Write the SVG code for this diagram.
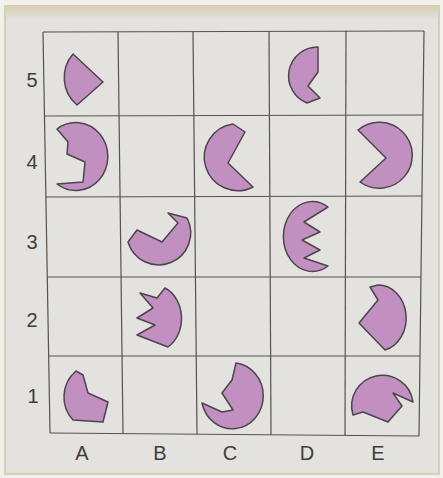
<svg xmlns="http://www.w3.org/2000/svg" width="443" height="478" viewBox="0 0 443 478">
  <defs>
    <linearGradient id="topband" x1="0" y1="0" x2="0" y2="1">
      <stop offset="0" stop-color="#d8d0b6"/>
      <stop offset="1" stop-color="#e2e0da"/>
    </linearGradient>
    <style>
      .grid { stroke: #55524f; stroke-width: 1.2; fill: none; }
      .shape { fill: #c28fc1; stroke: #4d454c; stroke-width: 1.5; stroke-linejoin: round; }
      .lbl { font-family: "Liberation Sans", "Noto Sans", sans-serif; font-size: 20px; fill: #3e3d3b; text-anchor: middle; }
    </style>
  </defs>

  <!-- photo background -->
  <rect x="0" y="0" width="443" height="478" fill="#f2f0ea"/>
  <rect x="4" y="5" width="436" height="470" fill="#d7cfb5"/>
  <rect x="6" y="7" width="432" height="466" fill="#e3e2de"/>
  <rect x="6" y="7" width="432" height="12" fill="url(#topband)"/>

  <!-- grid -->
  <g id="grid" class="grid">
    <line x1="43" y1="32" x2="424" y2="31"/>
    <line x1="44.5" y1="116" x2="423" y2="115"/>
    <line x1="45.9" y1="197" x2="422" y2="196"/>
    <line x1="47.3" y1="277" x2="421" y2="277"/>
    <line x1="48.7" y1="356" x2="420" y2="356"/>
    <line x1="50" y1="433" x2="419" y2="436"/>
    <line x1="43" y1="32" x2="50" y2="433"/>
    <line x1="118" y1="32" x2="123" y2="434"/>
    <line x1="193" y1="32" x2="197" y2="434"/>
    <line x1="269" y1="31" x2="271" y2="435"/>
    <line x1="346" y1="31" x2="345" y2="435"/>
    <line x1="424" y1="31" x2="419" y2="436"/>
  </g>

  <!-- shapes -->
  <g id="A5"><path class="shape" d="M73,54 A36,36 0 0 0 77,105 L103,82 Z"/></g>
  <g id="D5"><path class="shape" d="M318,47 A29,29 0 0 0 307,103 L320,98 L308,86 L318,72 Z"/></g>
  <g id="A4"><path class="shape" d="M57,129 L68,142 L67,154 L85,162 L83,182 L57,184 A32,34 0 1 0 57,129 Z"/></g>
  <g id="C4"><path class="shape" d="M233,124 L245,132 L228,163 L253,187 A33.5,33.5 0 1 1 233,124 Z"/></g>
  <g id="E4"><path class="shape" d="M358,130 L386,158 L360,182 A33,33 0 1 0 358,130 Z"/></g>
  <g id="B3"><path class="shape" d="M137,230 L162,242 L178,223 L168,213 L187,218 A32,32 0 1 1 128,242 Z"/></g>
  <g id="D3"><path class="shape" d="M328,207 A29,35 0 1 0 328,266 L304,258 L320,250 L302,240 L320,232 L304,222 Z"/></g>
  <g id="B2"><path class="shape" d="M140,293 L157,298 L165,288 A27,33 0 0 1 168,347 L137,335 L155,325 L137,318 L153,308 Z"/></g>
  <g id="E2"><path class="shape" d="M370,287 L378,300 L359,323 L385,350 A28,33 0 0 0 378,285 Z"/></g>
  <g id="A1"><path class="shape" d="M76,371 L83,375 L88,393 L108,402 L103,422 L73,420 A34,34 0 0 1 76,371 Z"/></g>
  <g id="C1"><path class="shape" d="M236,363 A31,33 0 1 1 202,403 L222,412 L233,410 L222,393 L232,380 Z"/></g>
  <g id="E1"><path class="shape" d="M353,415 A30.8,30.8 0 1 1 413,402 L393,393 L402,406 L388,422 L363,412 Z"/></g>

  <!-- labels -->
  <g id="labels">
    <text class="lbl" x="32" y="87">5</text>
    <text class="lbl" x="32" y="169">4</text>
    <text class="lbl" x="32" y="249">3</text>
    <text class="lbl" x="32" y="327">2</text>
    <text class="lbl" x="33" y="403">1</text>
    <text class="lbl" x="82" y="460">A</text>
    <text class="lbl" x="160" y="460">B</text>
    <text class="lbl" x="230" y="460">C</text>
    <text class="lbl" x="307" y="460">D</text>
    <text class="lbl" x="378" y="460">E</text>
  </g>
</svg>
